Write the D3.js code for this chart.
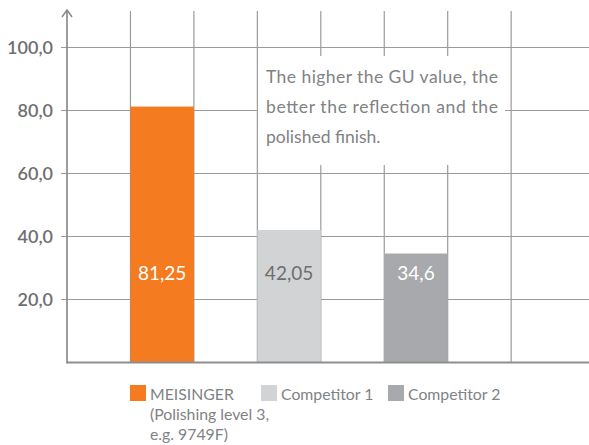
<!DOCTYPE html>
<html>
<head>
<meta charset="utf-8">
<script src="https://cdn.jsdelivr.net/npm/d3@7"></script>
<style>
  body { margin: 0; background: #fff; }
  svg { display: block; font-family: Lato, "Open Sans", sans-serif; }
</style>
</head>
<body>
<svg width="589" height="445"></svg>
<script>
// data
const categories = ['MEISINGER', 'Competitor 1', 'Competitor 2'];
const values = [81.25, 42.05, 34.6];
const valueLabels = ['81,25', '42,05', '34,6'];
const yTicks = [20, 40, 60, 80, 100];
const legendLines = [['MEISINGER', '(Polishing level 3,', 'e.g. 9749F)'], ['Competitor 1'], ['Competitor 2']];
const noteLines = ['The higher the GU value, the', 'better the reflection and the', 'polished finish.'];

const colors = ['#f47b20', '#d1d3d4', '#a7a9ac'];
const labelColors = ['#ffffff', '#6d6e71', '#ffffff'];
const gridColor = '#9b9b9b';

const svg = d3.select('svg');
const width = +svg.attr('width');

// 8 equal slots, bars sit in slots 1, 3 and 5
const slots = 8;
const x = d3.scaleLinear().domain([0, slots]).range([67, 574.6]);
const y = d3.scaleLinear().domain([0, 100]).range([362.5, 47.5]);
const slotW = x(1) - x(0);
const gridTop = 11;

// horizontal gridlines (stick out left as ticks)
svg.append('g').selectAll('line').data(yTicks)
  .enter().append('line')
    .attr('x1', 61).attr('x2', width)
    .attr('y1', d => y(d)).attr('y2', d => y(d))
    .attr('stroke', gridColor).attr('stroke-width', 1.2);

// vertical gridlines
svg.append('g').selectAll('line').data(d3.range(1, slots))
  .enter().append('line')
    .attr('x1', d => x(d)).attr('x2', d => x(d))
    .attr('y1', gridTop).attr('y2', y(0))
    .attr('stroke', gridColor).attr('stroke-width', 1.2);

// bars
const barSlot = i => 2 * i + 1;
svg.append('g').selectAll('rect').data(values)
  .enter().append('rect')
    .attr('x', (d, i) => x(barSlot(i)))
    .attr('y', d => y(d))
    .attr('width', slotW)
    .attr('height', d => y(0) - y(d))
    .attr('fill', (d, i) => colors[i]);

// value labels
svg.append('g').selectAll('text').data(values)
  .enter().append('text')
    .attr('x', (d, i) => x(barSlot(i)) + slotW / 2)
    .attr('y', 280)
    .attr('text-anchor', 'middle')
    .attr('font-size', 19)
    .attr('fill', (d, i) => labelColors[i])
    .text((d, i) => valueLabels[i]);

// axes
svg.append('line')
  .attr('x1', x(0)).attr('x2', width)
  .attr('y1', y(0)).attr('y2', y(0))
  .attr('stroke', '#8e8e8e').attr('stroke-width', 2);
svg.append('line')
  .attr('x1', x(0)).attr('x2', x(0))
  .attr('y1', 10).attr('y2', y(0) + 1)
  .attr('stroke', '#858585').attr('stroke-width', 1.6);
svg.append('path')
  .attr('d', `M${x(0) - 5},17 L${x(0)},10 L${x(0) + 5},17`)
  .attr('fill', 'none').attr('stroke', '#858585').attr('stroke-width', 1.4);

// y tick labels
svg.append('g').selectAll('text').data(yTicks)
  .enter().append('text')
    .attr('x', 53)
    .attr('y', d => y(d) + 6.5)
    .attr('text-anchor', 'end')
    .attr('font-size', 18)
    .attr('font-weight', 600)
    .attr('fill', '#6d6e71')
    .text(d => d3.format('.1f')(d).replace('.', ','));

// note box
const note = svg.append('g');
note.append('rect')
  .attr('x', 258).attr('y', 56)
  .attr('width', 247).attr('height', 109)
  .attr('fill', '#fff');
note.selectAll('text').data(noteLines)
  .enter().append('text')
    .attr('x', 266)
    .attr('y', (d, i) => 83 + i * 30)
    .attr('font-size', 17.5)
    .attr('fill', '#808285')
    .attr('textLength', (d, i) => i < 2 ? 232 : null)
    .attr('lengthAdjust', 'spacing')
    .text(d => d);

// legend
const legendX = [130, 261, 388];
const legend = svg.append('g');
const items = legend.selectAll('g').data(categories)
  .enter().append('g')
    .attr('transform', (d, i) => `translate(${legendX[i]},385)`);
items.append('rect')
  .attr('width', 16).attr('height', 16)
  .attr('fill', (d, i) => colors[i]);
items.each(function(d, i) {
  d3.select(this).selectAll('text').data(legendLines[i])
    .enter().append('text')
      .attr('x', 20)
      .attr('y', (t, j) => 14.5 + j * 20)
      .attr('font-size', 15.8)
      .attr('fill', '#808285')
      .text(t => t);
});
</script>
</body>
</html>
